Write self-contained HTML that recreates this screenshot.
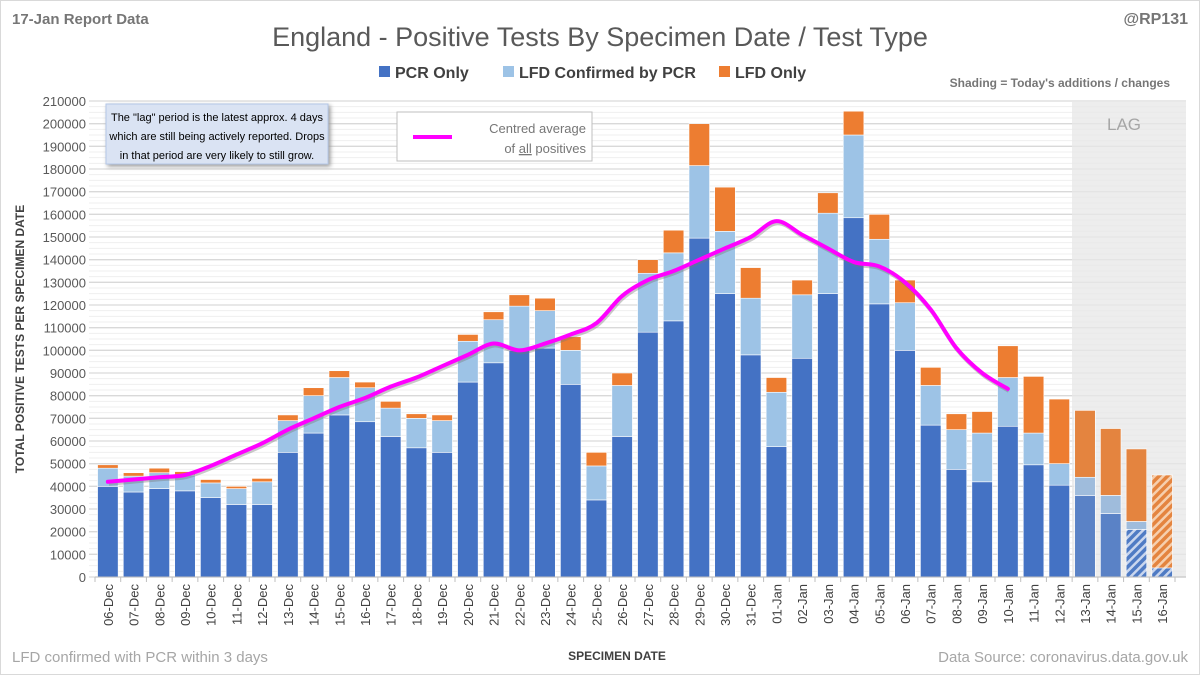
<!DOCTYPE html>
<html><head><meta charset="utf-8"><style>
body{margin:0;background:#fff;}
svg text{font-family:"Liberation Sans",sans-serif;}
</style></head><body>
<svg id="chart" width="1200" height="675" viewBox="0 0 1200 675" xmlns="http://www.w3.org/2000/svg">
<defs>
<pattern id="hb" width="6" height="6" patternUnits="userSpaceOnUse" patternTransform="rotate(45)"><rect width="6" height="6" fill="#4f7bc4"/><rect width="2.5" height="6" fill="#c9d6ee"/></pattern>
<pattern id="ho" width="6" height="6" patternUnits="userSpaceOnUse" patternTransform="rotate(45)"><rect width="6" height="6" fill="#e4843f"/><rect width="2.5" height="6" fill="#f6cfae"/></pattern>
</defs>
<rect x="0.5" y="0.5" width="1199" height="674" fill="#fff" stroke="#d9d9d9"/>
<text x="12" y="24" font-size="15" font-weight="bold" fill="#767676">17-Jan Report Data</text>
<text x="600" y="46" font-size="27" fill="#595959" text-anchor="middle">England - Positive Tests By Specimen Date / Test Type</text>
<text x="1188" y="24" font-size="16" font-weight="bold" fill="#767676" text-anchor="end">@RP131</text>
<g>
<rect x="379" y="66" width="11" height="11" fill="#4472c4"/>
<text x="395" y="78" font-size="16" font-weight="bold" fill="#404040">PCR Only</text>
<rect x="503" y="66" width="11" height="11" fill="#9dc3e6"/>
<text x="519" y="78" font-size="16" font-weight="bold" fill="#404040">LFD Confirmed by PCR</text>
<rect x="719" y="66" width="11" height="11" fill="#ed7d31"/>
<text x="735" y="78" font-size="16" font-weight="bold" fill="#404040">LFD Only</text>
</g>
<text x="1170" y="87" font-size="12" font-weight="bold" fill="#767676" text-anchor="end">Shading = Today's additions / changes</text>
<g id="grid"></g>
<rect x="1072" y="101" width="114" height="476" fill="#e7e7e7" opacity="0.75"/>
<text x="1124" y="130" font-size="17" fill="#a6a6a6" text-anchor="middle">LAG</text>
<g id="bars"></g>
<g id="line"></g>
<g id="axes"></g>
<g>
<rect x="106" y="104" width="222" height="60" fill="#dae3f3" stroke="#b4c7e7" style="filter:drop-shadow(2px 2px 2px #999)"/>
<text font-size="11" fill="#000" text-anchor="middle"><tspan x="217" y="121">The "lag" period is the latest approx. 4 days</tspan><tspan x="217" y="140">which are still being actively reported. Drops</tspan><tspan x="217" y="159">in that period are very likely to still grow.</tspan></text>
</g>
<g>
<rect x="397" y="112" width="195" height="49" fill="#fff" stroke="#bfbfbf"/>
<line x1="413" y1="137" x2="452" y2="137" stroke="#ff00ff" stroke-width="4"/>
<text font-size="13" fill="#767676" text-anchor="end"><tspan x="586" y="133">Centred average</tspan><tspan x="586" y="153">of <tspan text-decoration="underline">all</tspan> positives</tspan></text>
</g>
<text transform="translate(24,339) rotate(-90)" font-size="12" font-weight="bold" fill="#404040" text-anchor="middle">TOTAL POSITIVE TESTS PER SPECIMEN DATE</text>
<text x="617" y="660" font-size="12" font-weight="bold" fill="#404040" text-anchor="middle">SPECIMEN DATE</text>
<text x="12" y="662" font-size="15" fill="#a6a6a6">LFD confirmed with PCR within 3 days</text>
<text x="1188" y="662" font-size="15" fill="#a6a6a6" text-anchor="end">Data Source: coronavirus.data.gov.uk</text>
</svg>
<script>
const categories=["06-Dec","07-Dec","08-Dec","09-Dec","10-Dec","11-Dec","12-Dec","13-Dec","14-Dec","15-Dec","16-Dec","17-Dec","18-Dec","19-Dec","20-Dec","21-Dec","22-Dec","23-Dec","24-Dec","25-Dec","26-Dec","27-Dec","28-Dec","29-Dec","30-Dec","31-Dec","01-Jan","02-Jan","03-Jan","04-Jan","05-Jan","06-Jan","07-Jan","08-Jan","09-Jan","10-Jan","11-Jan","12-Jan","13-Jan","14-Jan","15-Jan","16-Jan"];
const pcrOnly=[40000,37500,39000,38000,35000,32000,32000,55000,63500,71500,68500,62000,57000,55000,86000,94500,100000,101000,85000,34000,62000,108000,113000,149500,125000,98000,57500,96500,125000,158500,120500,100000,67000,47500,42000,66500,49500,40500,36000,28000,21000,4000];
const lfdConfirmed=[8000,7000,7000,7000,6500,7000,10000,14000,16500,16500,15000,12500,13000,14000,18000,19000,19500,16500,15000,15000,22500,26000,30000,32000,27500,25000,24000,28000,35500,36500,28500,21000,17500,17500,21500,21500,14000,9500,8000,8000,3500,0];
const lfdOnly=[1500,1500,2000,1500,1500,1000,1500,2500,3500,3000,2500,3000,2000,2500,3000,3500,5000,5500,6000,6000,5500,6000,10000,18500,19500,13500,6500,6500,9000,10500,11000,10000,8000,7000,9500,14000,25000,28500,29500,29500,32000,41000];
const avgValues=[42000,43000,44000,45000,49000,54000,59000,65000,70000,75000,79000,84000,88000,93000,98000,103000,100000,103000,107000,112000,124000,131000,135000,140000,145000,150000,157000,151000,145000,139000,137000,130000,118000,101000,90000,83000];
const yTicks=[0,10000,20000,30000,40000,50000,60000,70000,80000,90000,100000,110000,120000,130000,140000,150000,160000,170000,180000,190000,200000,210000];
const lagCount=4;
</script>
<script>
const NS="http://www.w3.org/2000/svg";
const X0=95,X1=1175,Y0=577,Y1=101,YMAX=210000;
const step=(X1-X0)/categories.length;
function xc(i){return X0+step*(i+0.5);}
function y(v){return Y0-(v/YMAX)*(Y0-Y1);}
function mk(t,a,p){const e=document.createElementNS(NS,t);for(const k in a)e.setAttribute(k,a[k]);p.appendChild(e);return e;}
const grid=document.getElementById('grid'),bars=document.getElementById('bars'),line=document.getElementById('line'),axes=document.getElementById('axes');
for(let v=0;v<=YMAX;v+=2500){
 const major=v%10000===0;
 const g=mk('line',{x1:X0-6,x2:1186,y1:y(v),y2:y(v),stroke:major?'#d9d9d9':'#efefef','stroke-width':major?1.3:1},grid);
 
 
}
yTicks.forEach(v=>{
 const t=mk('text',{x:X0-9,y:y(v)+5,'font-size':13,fill:'#595959','text-anchor':'end'},axes);
 t.textContent=v;
 
 
});
const bw=step*0.8;
categories.forEach((c,i)=>{
 const lag=i>=categories.length-lagCount;
 const x=xc(i)-bw/2;
 const segs=[[pcrOnly[i],lag?'#5a82c6':'#4472c4','bar-pcr-only'],[lfdConfirmed[i],lag?'#9fbcdc':'#9dc3e6','bar-lfd-confirmed'],[lfdOnly[i],lag?'#e4843f':'#ed7d31','bar-lfd-only']];
 let base=0;
 segs.forEach(s=>{
  let fill=s[1];
  if(i===categories.length-1&&s[2]!=='bar-lfd-confirmed')fill=s[2]==='bar-pcr-only'?'url(#hb)':'url(#ho)';
  if(i===categories.length-2&&s[2]==='bar-pcr-only')fill='url(#hb)';
  const r=mk('rect',{x:x,y:y(base+s[0]),width:bw,height:Math.max(0,y(base)-y(base+s[0])),fill:fill,stroke:'#fff','stroke-width':0.6},bars);
  
  
  base+=s[0];
 });
 const t=mk('text',{transform:`translate(${xc(i)+5},${Y0+7}) rotate(-90)`,'font-size':13,fill:'#404040','text-anchor':'end'},axes);
 t.textContent=c;
 
 
});
mk('line',{x1:X0,x2:1186,y1:Y0,y2:Y0,stroke:'#bfbfbf'},axes);
for(let i=0;i<=categories.length;i++)mk('line',{x1:X0+step*i,x2:X0+step*i,y1:Y0,y2:Y0+5,stroke:'#bfbfbf'},axes);
const pts=avgValues.map((v,i)=>[xc(i),y(v)]);
let d='M'+pts[0][0]+','+pts[0][1];
for(let i=0;i<pts.length-1;i++){
 const p0=pts[Math.max(0,i-1)],p1=pts[i],p2=pts[i+1],p3=pts[Math.min(pts.length-1,i+2)];
 d+=` C${p1[0]+(p2[0]-p0[0])/6},${p1[1]+(p2[1]-p0[1])/6} ${p2[0]-(p3[0]-p1[0])/6},${p2[1]-(p3[1]-p1[1])/6} ${p2[0]},${p2[1]}`;
}
const sh=mk('path',{d:d,fill:'none',stroke:'#777',opacity:0.4,'stroke-width':4,transform:'translate(1,2)'},line);


const pl=mk('path',{d:d,fill:'none',stroke:'#ff00ff','stroke-width':4,'stroke-linecap':'round'},line);


</script>
</body></html>
